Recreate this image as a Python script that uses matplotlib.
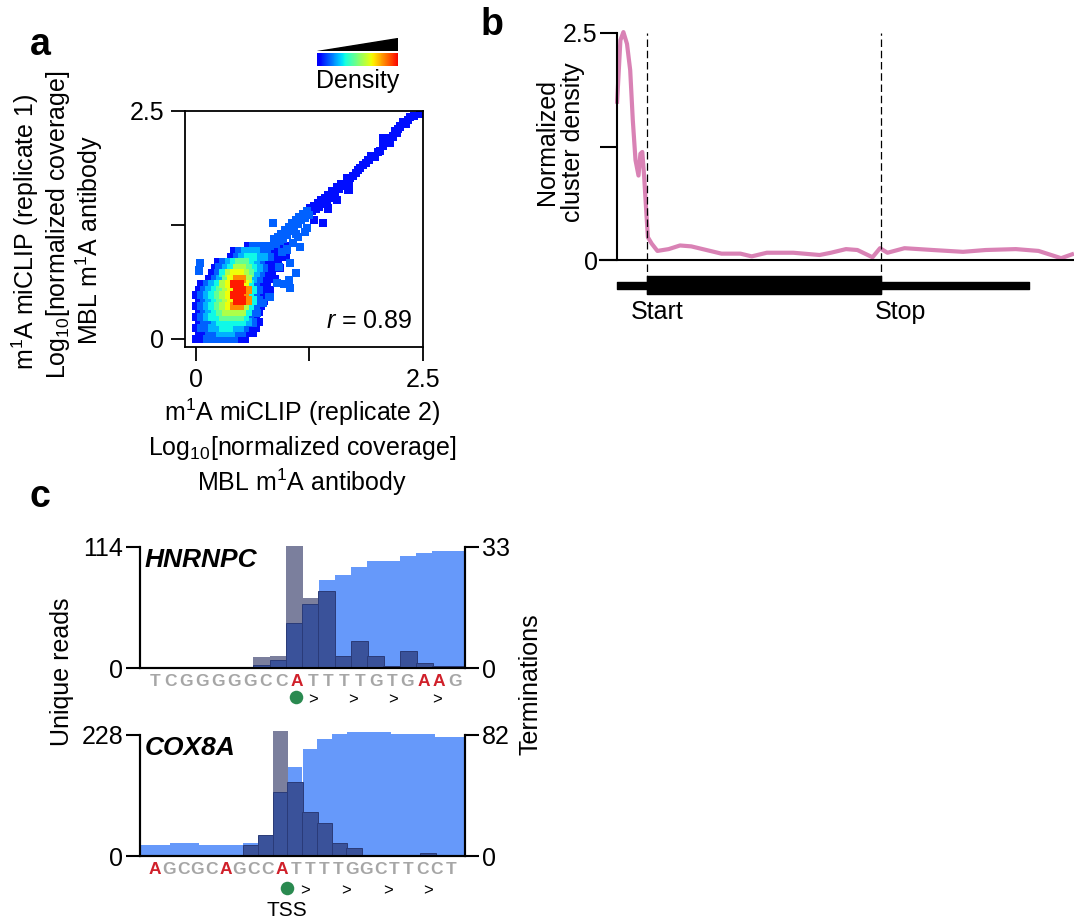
import matplotlib.pyplot as plt
import numpy as np
from matplotlib.patches import Polygon

plt.rcParams['font.family'] = ['Liberation Sans', 'DejaVu Sans']
plt.rcParams['mathtext.fontset'] = 'custom'
plt.rcParams['mathtext.rm'] = 'Liberation Sans'
plt.rcParams['mathtext.it'] = 'Liberation Sans:italic'
plt.rcParams['mathtext.bf'] = 'Liberation Sans:bold'

# -------------------------------------------------------
# dados do painel a (densidade por célula: 1 = baixa, 9 = alta)
blob_step = 0.06
blob_rows = [
    "1122222211",
    "11223332211",
    "122334433211",
    "122344444321",
    "123445555421",
    "123456666421",
    "1234567886421",
    "1234567998421",
    "12345679984211",
    "12345679984211",
    ".1234679974211",
    "..1235788632111",
    "...124677653211",
    "...1134665432111",
    "....123455432111",
    "......12344332111",
    ".......1233322111",
    ".........12222111",
]
tail_x = [2.47, 2.40, 2.36, 2.33, 2.31, 2.28, 2.25, 2.22, 2.21, 2.17, 2.19, 2.14, 2.10, 2.06,
          2.03, 2.00, 1.97, 1.93, 1.90, 1.87, 1.84, 1.81, 1.78, 1.76, 1.73, 1.70, 1.68, 1.66,
          1.63, 1.60, 1.58, 1.55, 1.53, 1.50, 1.48, 1.46, 1.44, 1.42, 1.40, 1.38, 1.36, 1.34,
          1.32, 1.30, 1.28, 1.26, 1.24, 1.22, 1.20, 1.18, 1.16, 1.14, 1.12, 1.10, 1.08, 1.06,
          1.04, 1.02, 1.00, 0.98, 0.96, 0.94, 0.92, 0.90, 0.88, 0.86, 0.85, 1.40, 1.68, 2.06,
          1.04, 1.02, 1.04, 0.89, 0.81, 0.74, 0.67, 0.63, 0.03, 0.25, 0.65, 0.82, 0.91, 1.15,
          1.00, 1.07, 1.12, 1.22, 1.30, 1.10, 0.95, 1.20, 1.45, 1.55, 0.05, 0.97, 1.10]
tail_y = [2.47, 2.45, 2.43, 2.40, 2.36, 2.38, 2.33, 2.30, 2.26, 2.22, 2.28, 2.15, 2.20, 2.12,
          2.06, 2.05, 2.00, 2.01, 1.96, 1.93, 1.91, 1.87, 1.85, 1.82, 1.79, 1.76, 1.72, 1.76,
          1.68, 1.70, 1.64, 1.66, 1.59, 1.62, 1.55, 1.58, 1.52, 1.55, 1.48, 1.52, 1.45, 1.49,
          1.42, 1.46, 1.40, 1.43, 1.36, 1.40, 1.33, 1.37, 1.30, 1.34, 1.26, 1.30, 1.22, 1.27,
          1.18, 1.23, 1.14, 1.19, 1.10, 1.15, 1.07, 1.12, 1.04, 1.09, 1.27, 1.27, 1.63, 2.20,
          0.83, 0.65, 0.56, 0.61, 0.46, 0.39, 0.28, 0.17, 0.75, 0.79, 1.00, 0.90, 0.79, 1.01,
          0.98, 1.05, 1.12, 1.22, 1.30, 1.15, 0.95, 1.17, 1.43, 1.52, 0.83, 0.60, 0.72]
r_value = 0.89

# dados do painel b
b_x = [0, 0.34, 0.64, 1.0, 1.32, 1.58, 1.85, 2.15, 2.34, 2.53, 2.72, 2.9, 3.09, 3.47,
       4.04, 5.17, 6.3, 7.43, 8.94, 10.45, 12.34, 13.47, 14.98, 17.62, 20.26, 21.39,
       22.9, 24.04, 25.55, 26.3, 27.05, 28.75, 31.58, 34.6, 36.87, 39.88, 42.15, 44.41, 45.7]
b_y = [1.72, 2.42, 2.51, 2.38, 2.09, 1.54, 1.10, 0.93, 1.17, 1.19, 0.91, 0.58, 0.25, 0.18,
       0.10, 0.12, 0.16, 0.15, 0.11, 0.07, 0.07, 0.04, 0.08, 0.08, 0.055, 0.08,
       0.12, 0.11, 0.03, 0.13, 0.08, 0.13, 0.11, 0.09, 0.11, 0.12, 0.10, 0.02, 0.07]
cds_start, cds_stop, utr3_end = 2.95, 26.4, 41.2

# dados do painel c
hn_seq = "TCGGGGGCCATTTTGTGAAG"
hn_gray = [0, 0, 0, 0, 0, 0, 0, 10, 11.6, 115, 65.6, 0, 0, 0, 0, 0, 0, 0, 0, 0]
hn_navy = [0, 0, 0, 0, 0, 0, 0, 3, 7.8, 42, 60, 72.5, 11.6, 25.6, 11.6, 2.2, 16.3, 5, 2.2, 2.2]
hn_term = [0, 0, 0, 0, 0, 0, 0, 0, 0, 0, 0, 24.0, 25.3, 27.6, 29.1, 29.1, 30.5, 31.4, 31.9, 31.9]
hn_max_reads, hn_max_term = 114, 33

cx_seq = "AGCGCAGCCATTTTGGCTTCCT"
cx_gray = [0, 0, 0, 0, 0, 0, 0, 0, 0, 235, 0, 0, 0, 0, 0, 0, 0, 0, 0, 0, 0, 0]
cx_navy = [0, 0, 0, 0, 0, 0, 0, 20.7, 39.6, 121, 139.4, 83, 62, 24.5, 15, 1.5, 1.5, 1.5, 1.5, 6.3, 1.5, 1.5]
cx_term = [7.5, 7.5, 8.8, 8.8, 7.2, 7.2, 7.2, 8.8, 13, 60, 60.1, 72.3, 79.3, 82.7, 84, 84, 84,
           82.7, 82.7, 82.7, 80.4, 80.4]
cx_max_reads, cx_max_term = 228, 82

W, H = 1074, 919
fig = plt.figure(figsize=(W / 100, H / 100), dpi=100)


def px_axes(l, t, r, b):
    return fig.add_axes([l / W, 1 - b / H, (r - l) / W, (b - t) / H])


fs = 18

# -------------------------------------------------------
# Painel a
ax = px_axes(185, 111, 423, 347)
xs, ys, ds = [], [], []
for i, row in enumerate(blob_rows):
    for j, ch in enumerate(row):
        if ch != '.':
            # linhas alternadas deslocadas meia célula
            xs.append(j * blob_step + (i % 2) * blob_step / 2)
            ys.append(i * blob_step)
            ds.append(int(ch))
xs += tail_x
ys += tail_y
ds += [2 if x < 1.25 else 1 for x in tail_x]
shade = [0, 0.14, 0.22, 0.3, 0.37, 0.47, 0.56, 0.64, 0.76, 0.88]
order = np.argsort(ds, kind='stable')
xs = np.array(xs)[order]
ys = np.array(ys)[order]
cs = np.array([shade[d] for d in ds])[order]
ax.scatter(xs, ys, c=cs, cmap='jet', vmin=0, vmax=1, marker='s', s=34, linewidths=0)
ax.set_xlim(-0.12, 2.5)
ax.set_ylim(-0.09, 2.5)
ax.set_xticks([0, 1.25, 2.5])
ax.set_xticklabels(['0', '', '2.5'])
ax.set_yticks([0, 1.25, 2.5])
ax.set_yticklabels(['0', '', '2.5'])
ax.tick_params(direction='out', length=10, width=1.3, labelsize=fs, pad=5)
for s in ax.spines.values():
    s.set_linewidth(1.3)
ax.text(2.38, 0.19, '$r$ = %.2f' % r_value, ha='right', va='center', fontsize=fs)

# barra de densidade
cax = px_axes(317, 53, 398, 66)
cax.imshow(np.linspace(0.1, 0.9, 100)[None, :], cmap='jet', vmin=0, vmax=1,
           aspect='auto', extent=[0, 1, 0, 1])
cax.axis('off')
wax = px_axes(317, 38, 398, 51)
wax.add_patch(Polygon([[0, 0], [1, 0], [1, 1]], closed=True, color='black'))
wax.set_xlim(0, 1)
wax.set_ylim(0, 1)
wax.axis('off')
fig.text(358 / W, 1 - 81 / H, 'Density', ha='center', va='center', fontsize=fs)

fig.text(302 / W, 1 - 412 / H, 'm$^1$A miCLIP (replicate 2)', ha='center', va='center', fontsize=fs)
fig.text(302 / W, 1 - 448 / H, 'Log$_{10}$[normalized coverage]', ha='center', va='center', fontsize=fs)
fig.text(302 / W, 1 - 482 / H, 'MBL m$^1$A antibody', ha='center', va='center', fontsize=fs)
fig.text(25 / W, 1 - 232 / H, 'm$^1$A miCLIP (replicate 1)', ha='center', va='center',
         fontsize=fs, rotation=90)
fig.text(58 / W, 1 - 225 / H, 'Log$_{10}$[normalized coverage]', ha='center', va='center',
         fontsize=fs, rotation=90)
fig.text(89 / W, 1 - 240 / H, 'MBL m$^1$A antibody', ha='center', va='center',
         fontsize=fs, rotation=90)
fig.text(40 / W, 1 - 45 / H, 'a', ha='center', va='center', fontsize=27, fontweight='bold')

# -------------------------------------------------------
# Painel b
bx = px_axes(600, 33, 1074, 260)
bx.plot(b_x, b_y, color='#D982B5', lw=3, clip_on=False, solid_capstyle='butt')
bx.set_xlim(-1.7, 45.7)
bx.set_ylim(0, 2.5)
bx.spines['left'].set_position(('data', 0))
bx.spines['left'].set_bounds(0, 2.5)
bx.spines['top'].set_visible(False)
bx.spines['right'].set_visible(False)
bx.spines['left'].set_linewidth(1.5)
bx.spines['bottom'].set_linewidth(1.5)
bx.set_xticks([])
bx.set_yticks([0, 1.25, 2.5])
bx.set_yticklabels(['0', '', '2.5'])
bx.tick_params(axis='y', direction='out', length=12, width=1.5, labelsize=fs, pad=2)
for xv in [cds_start, cds_stop]:
    bx.plot([xv, xv], [-0.374, 2.5], color='black', lw=0.9, ls=(0, (6, 3)), clip_on=False)
bx.broken_barh([(0, utr3_end)], (-0.319, 0.077), color='black', clip_on=False)
bx.broken_barh([(cds_start, cds_stop - cds_start)], (-0.374, 0.198), color='black', clip_on=False)
bx.text(cds_start - 1.6, -0.57, 'Start', ha='left', va='center', fontsize=fs)
bx.text(cds_stop - 0.6, -0.57, 'Stop', ha='left', va='center', fontsize=fs)
fig.text(560 / W, 1 - 142 / H, 'Normalized\ncluster density', ha='center', va='center',
         fontsize=fs, rotation=90, linespacing=1.15)
fig.text(492 / W, 1 - 25 / H, 'b', ha='center', va='center', fontsize=27, fontweight='bold')

# -------------------------------------------------------
# Painel c
light = '#6699FA'
navy = '#3A529A'
gray = '#7B7F9D'


def track(top, seq, gray_v, navy_v, term_v, max_r, max_t, name, letter_end, arrows, dot_x, dot_y, tss):
    ax1 = px_axes(140, top, 465, top + 121)
    ax2 = ax1.twinx()
    n = len(seq)
    idx = np.arange(n)
    ax2.bar(idx, term_v, width=1.0, color=light, linewidth=0, clip_on=False)
    ax1.bar(idx, gray_v, width=1.05, color=gray, linewidth=0, clip_on=False)
    ax1.bar(idx, navy_v, width=1.05, color=navy, edgecolor='#2A3B78', linewidth=0.7, clip_on=False)
    ax1.set_zorder(ax2.get_zorder() + 1)
    ax1.patch.set_visible(False)
    ax1.set_xlim(-0.5, n - 0.5)
    ax1.set_ylim(0, max_r)
    ax2.set_ylim(0, max_t)
    ax1.set_yticks([0, max_r])
    ax2.set_yticks([0, max_t])
    ax1.set_xticks([])
    for a in (ax1, ax2):
        a.spines['top'].set_visible(False)
        for s in a.spines.values():
            s.set_linewidth(1.5)
        a.tick_params(axis='y', direction='out', length=10, width=1.5, labelsize=fs, pad=2)
    ax1.text(0.015, 0.89, name, transform=ax1.transAxes, ha='left', va='center',
             fontsize=19, fontweight='bold', style='italic')
    pos = np.linspace(0.046, letter_end, n)
    for p, ch in zip(pos, seq):
        ax1.text(p, -0.115, ch, transform=ax1.transAxes, ha='center', va='center',
                 fontsize=12.5, fontweight='bold', color='#D0202A' if ch == 'A' else '#A6A6A6')
    ax1.scatter([dot_x], [dot_y], s=95, color='#2A8A50', transform=ax1.transAxes,
                clip_on=False, zorder=5, linewidths=0)
    for p in arrows:
        ax1.text(p, dot_y - 0.02, '>', transform=ax1.transAxes, ha='center', va='center', fontsize=12)
    if tss:
        ax1.text(dot_x, -0.45, 'TSS', transform=ax1.transAxes, ha='center', va='center', fontsize=15)
    return ax1, ax2


track(547, hn_seq, hn_gray, hn_navy, hn_term, hn_max_reads, hn_max_term, 'HNRNPC', 0.969,
      [0.532, 0.655, 0.778, 0.914], 0.48, -0.24, False)
track(735, cx_seq, cx_gray, cx_navy, cx_term, cx_max_reads, cx_max_term, 'COX8A', 0.956,
      [0.508, 0.634, 0.763, 0.886], 0.452, -0.265, True)

fig.text(62 / W, 1 - 672 / H, 'Unique reads', ha='center', va='center', fontsize=fs, rotation=90)
fig.text(530 / W, 1 - 684 / H, 'Terminations', ha='center', va='center', fontsize=fs, rotation=90)
fig.text(40 / W, 1 - 497 / H, 'c', ha='center', va='center', fontsize=27, fontweight='bold')

fig.savefig('out.png', dpi=100)
